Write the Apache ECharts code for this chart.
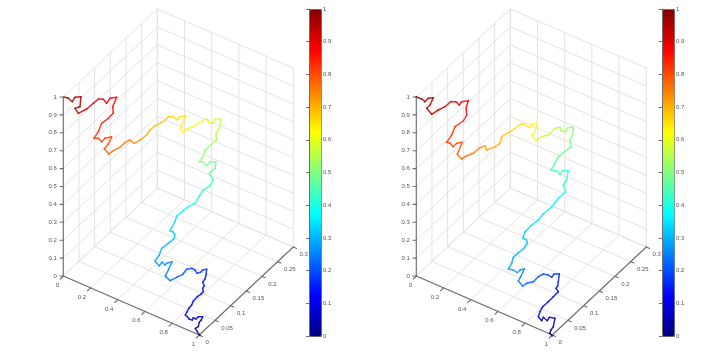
<!DOCTYPE html>
<html>
<head>
<meta charset="utf-8">
<style>html,body{margin:0;padding:0;background:#fff}#c{width:720px;height:360px}</style>
<script src="https://cdn.jsdelivr.net/npm/echarts@6/dist/echarts.min.js"></script>
</head>
<body>
<div id="c"></div>
<script>
// Tick values
const xTicks = [0, 0.2, 0.4, 0.6, 0.8, 1];
const yTicks = [0, 0.05, 0.1, 0.15, 0.2, 0.25, 0.3];
const zTicks = [0, 0.1, 0.2, 0.3, 0.4, 0.5, 0.6, 0.7, 0.8, 0.9, 1];
const jet = ['#000080','#0000ff','#0080ff','#00ffff','#80ff80','#ffff00','#ff8000','#ff0000','#800000'];

// Curves, in view-plane units of the orthographic projection
const leftU = [137,134.3,132.3,135.3,136.3,138.3,139.7,135.3,133,130.3,129.3,126.3,124.3,122.3,123.7,126.3,128.7,130.3,134.3,137.7,140.3,139.7,141.3,139.7,142,143,143.7,139.7,137.7,134,132,128.7,123.7,119.7,113.7,107,102.3,105.3,109,103.7,102,99,96.3,92,96.3,98.7,105.3,111.3,112,110,107,109,112,113.7,120.3,125.3,132,137,140.3,147,150.3,146.3,152,153,147,143.7,139.7,136.3,140.3,142,148.7,153.7,153,155.3,157,157.7,152,150.3,145.3,144.7,140.3,135.3,130.3,125.3,120.3,117,118.7,122.7,117,114.3,110.3,105.3,100.3,92,87,83.7,77,71.3,67,62,57,50.3,46,41.3,45.3,48.7,42,38.7,35.3,31,35.3,38.7,45.3,50.3,49.7,53.7,47,43.7,40.3,35.3,30.3,23.7,15.3,12,17,18,12,9.3,5.3,1];
const leftV = [-59.7,-55.7,-52.3,-50.7,-46.3,-44,-40.7,-40.7,-43,-41.7,-44,-43.3,-40.7,-39,-36.3,-31.7,-29,-25,-20.7,-18.3,-15.7,-12.3,-9.7,-6.3,-3,1,6.7,6,3.7,2.7,6,7.7,6.7,1.7,-1.3,-4.7,0,6,14.3,12.7,11,14,10,15,21,27.7,32.7,37.7,41,44,45.3,49,54.3,60,65.3,69.3,72.7,81,86,90,96,102.7,107.7,114.3,114,110.3,114,114.3,119.3,126,132,136,142.7,146,151,157,156.7,152.7,153.3,156.7,156,152.7,149.3,147.7,143.7,147.7,151,160,159.3,156,159.3,159.3,154.3,150,146,141,136,132.7,136,133.3,128.7,125.3,122,127,132,139.3,137.7,134.3,137.7,137.7,144.3,152.7,157.7,162.7,169.3,178.7,177.7,172.7,176.7,177,172.7,167,162.7,167.7,169.3,179.3,178.7,174.3,177.7,179];
const leftT = [0,.01,.02,.03,.04,.05,.06,.07,.075,.08,.085,.09,.095,.1,.105,.11,.115,.12,.125,.13,.135,.14,.145,.15,.155,.16,.17,.175,.18,.185,.19,.195,.2,.21,.22,.235,.245,.25,.26,.265,.27,.275,.28,.29,.295,.3,.31,.32,.325,.33,.335,.34,.35,.36,.375,.385,.4,.42,.43,.445,.46,.47,.48,.49,.495,.5,.505,.51,.52,.53,.54,.55,.56,.565,.57,.58,.585,.59,.595,.6,.605,.61,.615,.62,.63,.635,.64,.65,.655,.66,.67,.68,.69,.7,.71,.72,.73,.745,.75,.76,.77,.78,.79,.8,.805,.81,.815,.82,.825,.83,.84,.85,.86,.87,.875,.89,.895,.9,.905,.91,.92,.93,.94,.945,.95,.965,.97,.98,.99,1];

const rightU = [136.3,133.7,135,137.3,139,133.3,131.3,127.3,125.7,122.3,124,126.7,132.3,137.3,142.3,140,141.7,142.3,143.3,138,135.7,132.3,127.3,122.3,117.3,110.7,106.7,102.3,104.7,108.3,104,101.3,97.3,92.3,95.7,97.3,102.3,107.3,111.3,110.7,106.7,109,115.7,122.3,127.3,135.7,142.3,149.7,147.3,150.7,152.3,146.7,144,140.7,135,139,142.3,149,155,154,156.7,157.3,151.7,149.7,145,144,139,132.3,125.7,120,115.7,119,121.3,115.7,113.3,109,104.7,99,92.3,85.7,84,79,70.7,69,64,57.3,50.7,45.7,41.3,46.3,40.7,37.3,34,30.7,35.7,39,47.3,50.7,50,52.3,45.7,43.3,40,34.7,29,22.3,15.7,10.7,14,17.3,12.3,9,5.7,0];
const rightV = [-60,-57,-54,-50.7,-42.3,-41.3,-44.7,-41.3,-44.7,-40.7,-35.7,-30.7,-25.7,-20.7,-15.7,-12.3,-10,-5.7,2,2,-1.3,1,2,-0.7,-5.7,-7.3,-10,-5,-0.7,7,6,3.3,6,7,12.7,18.7,23.3,27,32.7,36,37.7,44.3,51,56,62,69.3,77.7,84.3,91,96,105.3,105.3,101.7,105,106,112.7,119.3,124.3,129.3,136,141,148.7,148.3,144.3,145.3,148.7,147.7,141,139.3,135.3,141,144.3,152.7,151.7,148.3,151.7,151.7,147.7,143.3,139.3,132.7,129.3,126,130.3,128.3,122.7,120.3,117,121.7,133.7,132.7,129.3,132.7,133.7,141,149.3,155,161,167.7,175.3,174.3,171,174.3,174.3,169.3,166,161.7,167.7,171,178.3,177.7,174.3,177,179.3];
const rightT = [0,.01,.015,.03,.05,.06,.065,.07,.075,.085,.09,.1,.11,.12,.13,.135,.14,.15,.17,.175,.18,.185,.19,.2,.215,.23,.24,.25,.255,.265,.27,.275,.28,.29,.295,.3,.31,.315,.32,.325,.33,.335,.345,.35,.36,.375,.385,.4,.405,.415,.43,.44,.445,.45,.46,.465,.475,.485,.495,.505,.515,.53,.535,.54,.55,.555,.56,.575,.59,.6,.605,.615,.63,.635,.64,.65,.66,.67,.68,.69,.7,.71,.73,.735,.74,.755,.77,.78,.79,.8,.805,.81,.815,.82,.83,.845,.86,.87,.875,.89,.895,.9,.905,.91,.92,.93,.94,.945,.95,.965,.97,.98,.99,1];

// Orthographic projection of the data box onto the view plane
function p3(x, y, z) {
  return [0.3 + 136 * x + 313.3 * y, -59 * x + 293.3 * y + 179 * z];
}
const GRID_COLOR = '#e3e3e3', AXIS_COLOR = '#6e6e6e', TEXT_COLOR = '#555';
const FONT = '6px "Liberation Sans", Arial, sans-serif';

function segment(a, b) { return [a[0], a[1], b[0], b[1]]; }

function gridSegments() {
  const s = [];
  xTicks.forEach(x => { s.push(segment(p3(x,0,0), p3(x,.3,0))); s.push(segment(p3(x,.3,0), p3(x,.3,1))); });
  yTicks.forEach(y => { s.push(segment(p3(0,y,0), p3(1,y,0))); s.push(segment(p3(0,y,0), p3(0,y,1))); });
  zTicks.forEach(z => { s.push(segment(p3(0,0,z), p3(0,.3,z))); s.push(segment(p3(0,.3,z), p3(1,.3,z))); });
  return s;
}
function axisSegments() {
  const s = [segment(p3(0,0,0), p3(1,0,0)), segment(p3(1,0,0), p3(1,.3,0)), segment(p3(0,0,0), p3(0,0,1))];
  xTicks.forEach(x => { const p = p3(x,0,0); s.push([p[0], p[1], p[0]-3, p[1]-3]); });
  yTicks.forEach(y => { const p = p3(1,y,0); s.push([p[0], p[1], p[0]+3.3, p[1]-1.4]); });
  zTicks.forEach(z => { const p = p3(0,0,z); s.push([p[0], p[1], p[0]-3.3, p[1]]); });
  return s;
}
function tickLabels() {
  const l = [];
  xTicks.forEach(x => { const p = p3(x,0,0); l.push([p[0], p[1], String(x), 'x']); });
  yTicks.forEach(y => { const p = p3(1,y,0); l.push([p[0], p[1], String(y), 'y']); });
  zTicks.forEach(z => { const p = p3(0,0,z); l.push([p[0], p[1], String(z), 'z']); });
  return l;
}
function curveSegments(U, V, T) {
  const s = [];
  for (let i = 0; i < U.length - 1; i++) s.push([U[i], V[i], U[i+1], V[i+1], T[i]]);
  return s;
}
function lineRenderer(color, width, opacity) {
  return function (params, api) {
    const a = api.coord([api.value(0), api.value(1)]);
    const b = api.coord([api.value(2), api.value(3)]);
    return { type: 'line', shape: { x1:a[0], y1:a[1], x2:b[0], y2:b[1] },
             style: { stroke: color || api.visual('color'), lineWidth: width, lineCap: 'round', opacity: opacity || 1 } };
  };
}
const LABEL_OFFSET = {
  x: { dx: -4.3, dy: 9.3, align: 'right' },
  y: { dx: 6.3, dy: 7.6, align: 'left' },
  z: { dx: -6.5, dy: 0, align: 'right' }
};
function labelRenderer(params, api) {
  const c = api.coord([api.value(0), api.value(1)]);
  const o = LABEL_OFFSET[api.value(3)];
  return { type: 'text', x: c[0] + o.dx, y: c[1] + o.dy,
           style: { text: String(api.value(2)), font: FONT, fill: TEXT_COLOR, align: o.align, verticalAlign: 'middle' } };
}

const grids = [], xAxes = [], yAxes = [], series = [], visualMaps = [];
function addPlot(offset, U, V, T) {
  const g = grids.length;
  grids.push({ left: 40 + offset, top: 0, width: 270, height: 360 });
  xAxes.push({ gridIndex: g, type: 'value', min: -23, max: 247, show: false });
  yAxes.push({ gridIndex: g, type: 'value', min: -84, max: 276, show: false });
  const common = { coordinateSystem: 'cartesian2d', xAxisIndex: g, yAxisIndex: g, silent: true, animation: false };
  series.push(Object.assign({ type: 'custom', data: gridSegments(), renderItem: lineRenderer(GRID_COLOR, 1) }, common));
  series.push(Object.assign({ type: 'custom', data: axisSegments(), renderItem: lineRenderer(AXIS_COLOR, 1.1) }, common));
  series.push(Object.assign({ type: 'custom', dimensions: ['a','b','label','kind'],
    encode: { x: 0, y: 1 }, data: tickLabels(), renderItem: labelRenderer }, common));
  series.push(Object.assign({ type: 'custom', data: curveSegments(U, V, T), renderItem: lineRenderer(null, 1.5, 0.85) }, common));
  const curveIndex = series.length - 1;

  const cg = grids.length;
  grids.push({ left: 309 + offset, top: 9, width: 12, height: 327 });
  xAxes.push({ gridIndex: cg, type: 'value', min: 0, max: 1, show: false });
  yAxes.push({ gridIndex: cg, type: 'value', position: 'right', min: 0, max: 1, interval: 0.1, z: 10,
    splitLine: { show: false },
    axisLine: { show: true, lineStyle: { color: AXIS_COLOR, width: 1 } },
    axisTick: { show: true, inside: true, length: 3, lineStyle: { color: AXIS_COLOR, width: 1 } },
    axisLabel: { show: true, margin: 2, fontSize: 6, color: TEXT_COLOR, fontFamily: '"Liberation Sans", Arial, sans-serif',
      formatter: v => String(Math.round(v * 10) / 10) } });
  visualMaps.push({ type: 'continuous', min: 0, max: 1, dimension: 4, seriesIndex: curveIndex,
    inRange: { color: jet }, calculable: false, hoverLink: false, realtime: false,
    orient: 'vertical', left: 309 + offset, top: 9, itemWidth: 12, itemHeight: 327,
    padding: 0, borderColor: AXIS_COLOR, borderWidth: 1, showLabel: false, text: null });
}
addPlot(0, leftU, leftV, leftT);
addPlot(353, rightU, rightV, rightT);

const chart = echarts.init(document.getElementById('c'), null, { width: 720, height: 360 });
chart.setOption({
  animation: false, backgroundColor: '#fff',
  grid: grids, xAxis: xAxes, yAxis: yAxes, visualMap: visualMaps, series: series
});
</script>
</body>
</html>
